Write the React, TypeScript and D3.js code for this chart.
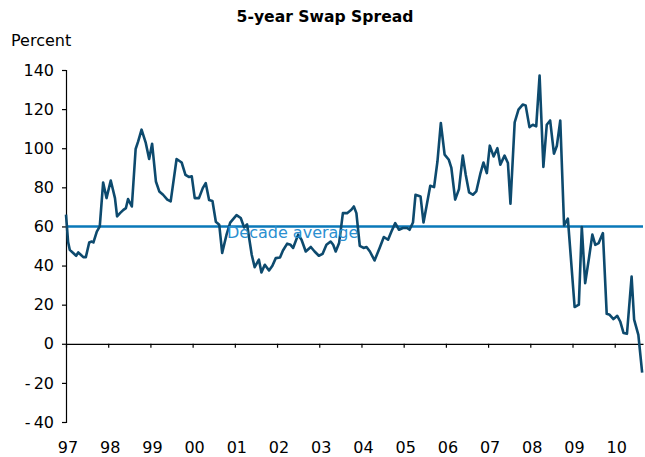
import { useEffect, useRef } from "react";
import * as d3 from "d3";

const FONT = "'DejaVu Sans', Verdana, sans-serif";
const SERIES_COLOR = "#0d4a6e";
const AVG_COLOR = "#0a78b9";

// traced vertices: decimal year and spread value (percent)
const dates = [
  1997.0, 1997.05, 1997.09, 1997.17, 1997.24, 1997.29, 1997.35, 1997.41, 1997.47, 1997.55,
  1997.61, 1997.65, 1997.73, 1997.8, 1997.88, 1997.96, 1998.06, 1998.16, 1998.21, 1998.28,
  1998.36, 1998.42, 1998.47, 1998.56, 1998.65, 1998.71, 1998.79, 1998.89, 1998.97, 1999.04,
  1999.13, 1999.21, 1999.3, 1999.4, 1999.48, 1999.62, 1999.74, 1999.83, 1999.91, 1999.98,
  2000.05, 2000.15, 2000.24, 2000.31, 2000.39, 2000.47, 2000.55, 2000.63, 2000.7, 2000.8,
  2000.89, 2001.04, 2001.14, 2001.22, 2001.29, 2001.4, 2001.47, 2001.57, 2001.63, 2001.71,
  2001.81, 2001.89, 2001.97, 2002.07, 2002.14, 2002.24, 2002.32, 2002.38, 2002.5, 2002.58,
  2002.68, 2002.8, 2002.89, 2002.99, 2003.08, 2003.17, 2003.27, 2003.33, 2003.39, 2003.47,
  2003.56, 2003.66, 2003.76, 2003.82, 2003.88, 2003.96, 2004.05, 2004.12, 2004.2, 2004.31,
  2004.43, 2004.53, 2004.63, 2004.71, 2004.8, 2004.89, 2004.98, 2005.08, 2005.14, 2005.22,
  2005.28, 2005.4, 2005.47, 2005.54, 2005.63, 2005.72, 2005.8, 2005.88, 2005.97, 2006.07,
  2006.13, 2006.22, 2006.31, 2006.4, 2006.47, 2006.55, 2006.64, 2006.72, 2006.82, 2006.89,
  2006.97, 2007.04, 2007.13, 2007.22, 2007.29, 2007.39, 2007.47, 2007.53, 2007.63, 2007.72,
  2007.82, 2007.89, 2007.98, 2008.06, 2008.14, 2008.22, 2008.31, 2008.39, 2008.47, 2008.56,
  2008.63, 2008.71, 2008.8, 2008.89, 2009.05, 2009.15, 2009.22, 2009.3, 2009.39, 2009.47,
  2009.54, 2009.62, 2009.72, 2009.81, 2009.88, 2009.97, 2010.06, 2010.13, 2010.21, 2010.29,
  2010.4, 2010.46, 2010.56, 2010.65,
];
const spread = [
  66, 52, 48, 46.4, 45, 46.7, 45.5, 44.3, 44.3, 51.8,
  52.3, 51.8, 57.4, 60, 82.5, 74.5, 83.5, 74.5, 65.1, 66.8,
  68.5, 69.4, 74, 70.2, 99.6, 103.5, 109.5, 102.7, 94.5, 102.3,
  83, 77.9, 76.2, 73.7, 72.8, 94.5, 92.7, 86.4, 85.3, 85.6,
  74.5, 74.5, 79.6, 82.2, 73.5, 73, 62.4, 60.9, 46.5, 55.5,
  62, 65.8, 64.3, 59.5, 61, 45.5, 39.2, 43, 36.5, 40.4,
  37.5, 39.9, 43.8, 44.1, 47.7, 51.2, 50.6, 49, 55.8, 53.2,
  47.2, 49.5, 47.2, 45, 46, 50.6, 52.3, 50.6, 47.2, 51.5,
  66.8, 66.8, 68.5, 70.2, 66.8, 50.1, 49, 49.5, 47.2, 42.6,
  49, 54.6, 53.2, 57.4, 61.7, 58.3, 59.2, 59.2, 58.3, 62,
  76.2, 75.3, 62, 70.2, 80.8, 80.1, 93.2, 112.9, 96.7, 94.1,
  89.9, 73.7, 79.1, 96.2, 86.4, 77.4, 76.2, 77.9, 87.3, 92.7,
  87.3, 101.3, 95.8, 100, 91.6, 96.2, 92.4, 71.6, 113.2, 119.7,
  122.3, 121.9, 110.8, 112, 111.2, 137.1, 90.4, 112, 114.2, 97.2,
  101.3, 114.2, 60.5, 64, 18.8, 20, 59.7, 31, 43.8, 55.8,
  50.6, 51.5, 56.6, 15.3, 14.8, 12.6, 14.3, 11.4, 5.5, 5.1,
  34.4, 12.3, 4.6, -14.7,
];

const years = [1997, 1998, 1999, 2000, 2001, 2002, 2003, 2004, 2005, 2006, 2007, 2008, 2009, 2010];
const yTicks = [-40, -20, 0, 20, 40, 60, 80, 100, 120, 140];
const decadeAverage = 60;

export default function App() {
  const svgRef = useRef(null);

  useEffect(() => {
    const svg = d3.select(svgRef.current);
    svg.selectAll("*").remove();

    const x = d3.scaleLinear().domain([1997, 2010.67]).range([66, 643]);
    const y = d3.scaleLinear().domain([-40, 140]).range([422, 70]);

    // Title and unit
    svg.append("text")
      .attr("x", 325).attr("y", 22)
      .attr("text-anchor", "middle").attr("font-family", FONT)
      .attr("font-size", 15.6).attr("font-weight", "bold").attr("fill", "#000")
      .text("5-year Swap Spread");
    svg.append("text")
      .attr("x", 11).attr("y", 46)
      .attr("font-family", FONT).attr("font-size", 16).attr("fill", "#000")
      .text("Percent");

    // Y axis
    const yAxis = svg.append("g").attr("transform", `translate(${x.range()[0]},0)`)
      .call(d3.axisLeft(y).tickValues(yTicks).tickSize(4).tickPadding(8)
        .tickFormat(d => (d < 0 ? `-\u2009${Math.abs(d)}` : `${d}`)));
    yAxis.select(".domain").attr("stroke", "#000").attr("stroke-width", 1.2);
    yAxis.selectAll(".tick line").attr("stroke", "#000").attr("stroke-width", 1.2);
    yAxis.selectAll("text").attr("font-family", FONT).attr("font-size", 16).attr("fill", "#000");

    // X axis along zero line
    const xAxis = svg.append("g").attr("transform", `translate(0,${y(0)})`)
      .call(d3.axisBottom(x).tickValues(years).tickSize(4).tickFormat(() => "").tickSizeOuter(0));
    xAxis.select(".domain").attr("stroke", "#000").attr("stroke-width", 1.2);
    xAxis.selectAll(".tick line").attr("stroke", "#000").attr("stroke-width", 1.2);

    // Year labels at the bottom
    svg.append("g").selectAll("text").data(years).enter().append("text")
      .attr("x", d => x(d) + 2).attr("y", 453)
      .attr("text-anchor", "middle").attr("font-family", FONT)
      .attr("font-size", 16).attr("fill", "#000")
      .text(d => String(d).slice(2));

    // Decade average
    svg.append("line")
      .attr("x1", x(1997)).attr("x2", x(2010.67))
      .attr("y1", y(decadeAverage)).attr("y2", y(decadeAverage))
      .attr("stroke", AVG_COLOR).attr("stroke-width", 2.5);

    // Series
    const line = d3.line<number>()
      .x((_, i) => x(dates[i]))
      .y(d => y(d));
    svg.append("path").datum(spread)
      .attr("d", line)
      .attr("fill", "none").attr("stroke", SERIES_COLOR)
      .attr("stroke-width", 2.6).attr("stroke-linejoin", "round");

    svg.append("text")
      .attr("x", 227).attr("y", y(decadeAverage) + 12)
      .attr("font-family", FONT).attr("font-size", 16).attr("fill", "#2a8fd0")
      .text("Decade average");
  }, []);

  return (
    <div style={{ position: "fixed", left: 0, top: 0, background: "#fff" }}>
      <svg ref={svgRef} width={645} height={457} style={{ display: "block" }} />
    </div>
  );
}
